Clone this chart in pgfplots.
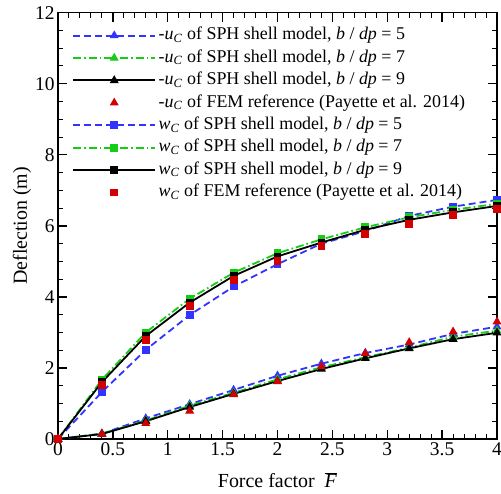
\documentclass[border=0pt]{standalone}
\usepackage{pgfplots}
\pgfplotsset{compat=1.18}
\usepackage{fontspec}
\setmainfont{Liberation Serif}
\definecolor{cblue}{RGB}{51,51,255}
\definecolor{cgreen}{RGB}{20,205,20}
\definecolor{cred}{RGB}{210,0,0}
\pgfplotsset{
  linelegend/.style={legend image code/.code={\path (0bp,0bp) (82bp,0bp);\draw[mark repeat=2,mark phase=2,##1,line width=2bp] plot coordinates {(0bp,0bp) (41bp,0bp) (82bp,0bp)};}},
  marklegend/.style={legend image code/.code={\path (0bp,0bp) (82bp,0bp);\draw[only marks,mark repeat=2,mark phase=2,##1] plot coordinates {(0bp,0bp) (41bp,0bp) (82bp,0bp)};}},
  bdash/.style={dash pattern=on 7bp off 4bp},
  gdash/.style={dash pattern=on 8bp off 3bp on 1.6bp off 3bp},
  tri/.style={mark=triangle*, mark size=4.2bp, mark options={solid, line width=1bp}},
  sq/.style={mark=square*, mark size=3.4bp, mark options={solid, line width=1bp}},
}
\newcommand{\uC}{-\textit{u}\textsubscript{\textit{C}}}
\newcommand{\wC}{\textit{w}\textsubscript{\textit{C}}}
\begin{document}
\begin{tikzpicture}
\begin{axis}[
  width=439bp, height=426.3bp, scale only axis,
  xmin=0, xmax=4, ymin=0, ymax=12,
  xtick={0,0.5,...,4}, minor x tick num=4,
  ytick={0,2,...,12}, minor y tick num=3,
  tick align=inside, major tick length=9bp, minor tick length=5bp,
  axis line style={line width=1.5bp},
  major tick style={black, line width=1.4bp},
  minor tick style={black, line width=1bp},
  /pgf/number format/assume math mode=true,
  tick label style={font=\fontsize{19.5}{19.5}\selectfont},
  xlabel={Force factor \ \(\overline{\hbox{\textit{F}}}\)},
  ylabel={Deflection (m)},
  every axis x label/.style={at={(axis description cs:0.5,-0.096)}, anchor=center, font=\fontsize{20}{20}\selectfont},
  every axis y label/.style={at={(axis description cs:-0.082,0.5)}, rotate=90, anchor=center, font=\fontsize{20}{20}\selectfont},
  legend cell align=left,
  legend style={at={(axis description cs:0.032,0.973)}, anchor=north west, draw=none, fill=none,
    inner sep=0pt, font=\fontsize{18}{18}\selectfont,
    nodes={text height=13bp, text depth=4.4bp, inner sep=2.5bp}},
]
\addplot[cblue, line width=1.8bp, bdash, tri, linelegend] coordinates {(0,0) (0.4,0.15) (0.8,0.58) (1.2,0.98) (1.6,1.38) (2.0,1.78) (2.4,2.12) (2.8,2.42) (3.2,2.66) (3.6,2.96) (4.0,3.16)};
\addlegendentry{\uC\ of SPH shell model, \textit{b} / \textit{dp} = 5}
\addplot[cgreen, line width=1.8bp, gdash, tri, linelegend] coordinates {(0,0) (0.4,0.15) (0.8,0.52) (1.2,0.94) (1.6,1.30) (2.0,1.68) (2.4,2.02) (2.8,2.30) (3.2,2.57) (3.6,2.88) (4.0,3.05)};
\addlegendentry{\uC\ of SPH shell model, \textit{b} / \textit{dp} = 7}
\addplot[black, line width=1.8bp, tri, linelegend] coordinates {(0,0) (0.4,0.14) (0.8,0.50) (1.2,0.90) (1.6,1.27) (2.0,1.63) (2.4,1.97) (2.8,2.27) (3.2,2.55) (3.6,2.81) (4.0,2.99)};
\addlegendentry{\uC\ of SPH shell model, \textit{b} / \textit{dp} = 9}
\addplot[cred, only marks, tri, marklegend] coordinates {(0,0) (0.4,0.14) (0.8,0.44) (1.2,0.79) (1.6,1.25) (2.0,1.62) (2.4,2.04) (2.8,2.41) (3.2,2.72) (3.6,3.02) (4.0,3.30)};
\addlegendentry{\uC\ of FEM reference (Payette et al. 2014)}
\addplot[cblue, line width=1.8bp, bdash, sq, linelegend] coordinates {(0,0) (0.4,1.32) (0.8,2.51) (1.2,3.49) (1.6,4.29) (2.0,4.92) (2.4,5.50) (2.8,5.85) (3.2,6.28) (3.6,6.54) (4.0,6.73)};
\addlegendentry{\wC\ of SPH shell model, \textit{b} / \textit{dp} = 5}
\addplot[cgreen, line width=1.8bp, gdash, sq, linelegend] coordinates {(0,0) (0.4,1.67) (0.8,3.00) (1.2,3.95) (1.6,4.68) (2.0,5.23) (2.4,5.62) (2.8,5.96) (3.2,6.24) (3.6,6.45) (4.0,6.62)};
\addlegendentry{\wC\ of SPH shell model, \textit{b} / \textit{dp} = 7}
\addplot[black, line width=1.8bp, sq, linelegend] coordinates {(0,0) (0.4,1.60) (0.8,2.90) (1.2,3.84) (1.6,4.59) (2.0,5.14) (2.4,5.53) (2.8,5.89) (3.2,6.17) (3.6,6.38) (4.0,6.56)};
\addlegendentry{\wC\ of SPH shell model, \textit{b} / \textit{dp} = 9}
\addplot[cred, only marks, sq, marklegend] coordinates {(0,0) (0.4,1.51) (0.8,2.79) (1.2,3.74) (1.6,4.48) (2.0,5.00) (2.4,5.44) (2.8,5.77) (3.2,6.05) (3.6,6.31) (4.0,6.47)};
\addlegendentry{\wC\ of FEM reference (Payette et al. 2014)}
\end{axis}
\pgfresetboundingbox
\path[use as bounding box] (-58bp,-55bp) rectangle (443bp,439bp);
\end{tikzpicture}
\end{document}
